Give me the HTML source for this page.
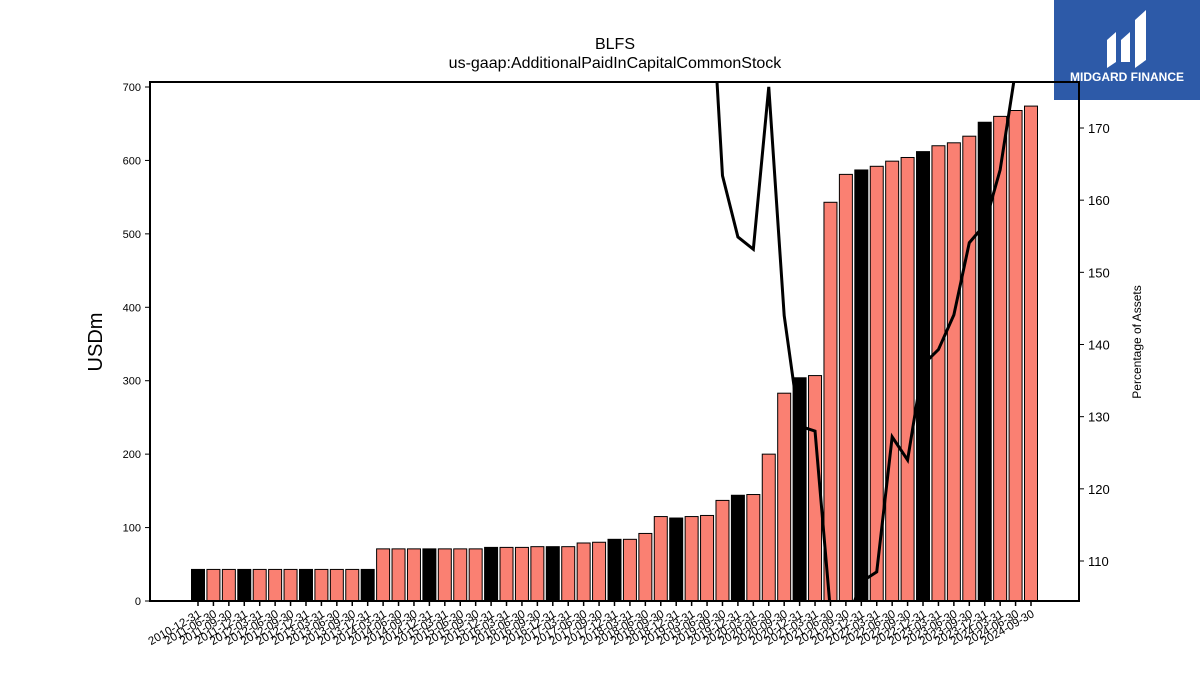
<!DOCTYPE html>
<html><head><meta charset="utf-8"><style>
body{margin:0;background:#fff;width:1200px;height:675px;overflow:hidden;font-family:"Liberation Sans","DejaVu Sans",sans-serif}
</style></head><body>
<svg id="c" width="1200" height="675" xmlns="http://www.w3.org/2000/svg">
<text x="615" y="49" text-anchor="middle" font-size="16">BLFS</text>
<text x="615" y="68" text-anchor="middle" font-size="16">us-gaap:AdditionalPaidInCapitalCommonStock</text>
<g>
<rect x="1054" y="0" width="146" height="100" fill="#2d5aa8"/>
<path d="M1107 68 L1107 40 L1116 32 L1116 62 Z M1121 62 L1121 40 L1130 32 L1130 62 Z M1135 68 L1135 20 L1146 10 L1146 60 Z" fill="#fff"/>
<text x="1127" y="81" text-anchor="middle" font-size="12" font-weight="bold" fill="#fff">MIDGARD FINANCE</text>
</g>
<text transform="translate(102,342) rotate(-90)" text-anchor="middle" font-size="20">USDm</text>
<text transform="translate(1141,342) rotate(-90)" text-anchor="middle" font-size="12">Percentage of Assets</text>
<g id="g"></g>
</svg>
<script>
const dates=["2010-12-31","2011-06-30","2011-09-30","2011-12-31","2012-03-31","2012-06-30","2012-09-30","2012-12-31","2013-03-31","2013-06-30","2013-09-30","2013-12-31","2014-03-31","2014-06-30","2014-09-30","2014-12-31","2015-03-31","2015-06-30","2015-09-30","2015-12-31","2016-03-31","2016-06-30","2016-09-30","2016-12-31","2017-03-31","2017-06-30","2017-09-30","2017-12-31","2018-03-31","2018-06-30","2018-09-30","2018-12-31","2019-03-31","2019-06-30","2019-09-30","2019-12-31","2020-03-31","2020-06-30","2020-09-30","2020-12-31","2021-03-31","2021-06-30","2021-09-30","2021-12-31","2022-03-31","2022-06-30","2022-09-30","2022-12-31","2023-03-31","2023-06-30","2023-09-30","2023-12-31","2024-03-31","2024-06-30","2024-09-30"];
const values=[43,43,43,43,43,43,43,43,43,43,43,43,71,71,71,71,71,71,71,73,73,73,74,74,74,79,80,84,84,92,115,113,115,116.5,137,144,145,200,283,304,307,543,581,587,592,599,604,612,620,624,633,652,660,668,674];
const pct=[250,250,250,250,250,250,250,250,250,250,250,250,250,250,250,250,250,250,250,250,250,250,250,250,250,250,250,250,250,250,250,250,250,200,163.4,154.9,153.2,175.7,144,128.7,128,103,101,107.1,108.5,127.2,124,137.2,139.3,144.1,154.1,156.6,164.2,178,176.5];
const leftTicks=[0,100,200,300,400,500,600,700];
const rightTicks=[110,120,130,140,150,160,170];
const NS="http://www.w3.org/2000/svg",g=document.getElementById('g');
const L=150,R=1079,T=82,B=601;
const x=i=>198+i*((1031-198)/(dates.length-1));
const y=v=>B-v*(B-87)/700;
const y2=v=>128+(170-v)*(561-128)/60;
function el(t,a,p){const e=document.createElementNS(NS,t);for(const k in a)e.setAttribute(k,a[k]);(p||g).appendChild(e);return e;}
const defs=el('defs',{});const cp=el('clipPath',{id:'cl'},defs);el('rect',{x:L,y:T,width:R-L,height:B-T},cp);
const bw=13;
values.forEach((v,i)=>{
 const r=el('rect',{x:x(i)-bw/2,y:y(v),width:bw,height:B-y(v),fill:dates[i].endsWith('12-31')?'#000':'#fa8072',stroke:'#000','stroke-width':1});
 
 
});
const ln=el('polyline',{points:pct.map((v,i)=>x(i)+','+y2(v)).join(' '),fill:'none',stroke:'#000','stroke-width':3,'clip-path':'url(#cl)'});


const fr=el('rect',{x:L,y:T,width:R-L,height:B-T,fill:'none',stroke:'#000','stroke-width':2});


leftTicks.forEach(v=>{
 el('line',{x1:L-5,x2:L,y1:y(v),y2:y(v),stroke:'#000'});
 const t=el('text',{x:L-9,y:y(v)+4,'text-anchor':'end','font-size':11});t.textContent=v;
 
 
});
rightTicks.forEach(v=>{
 el('line',{x1:R,x2:R+5,y1:y2(v),y2:y2(v),stroke:'#000'});
 const t=el('text',{x:R+9,y:y2(v)+5,'font-size':13});t.textContent=v;
 
 
});
dates.forEach((d,i)=>{
 el('line',{x1:x(i),x2:x(i),y1:B,y2:B+5,stroke:'#000','stroke-width':1.5});
 const t=el('text',{transform:`translate(${x(i)+4},${B+15}) rotate(-30)`,'text-anchor':'end','font-size':11.5});t.textContent=d;
 
 
});
</script>
</body></html>
